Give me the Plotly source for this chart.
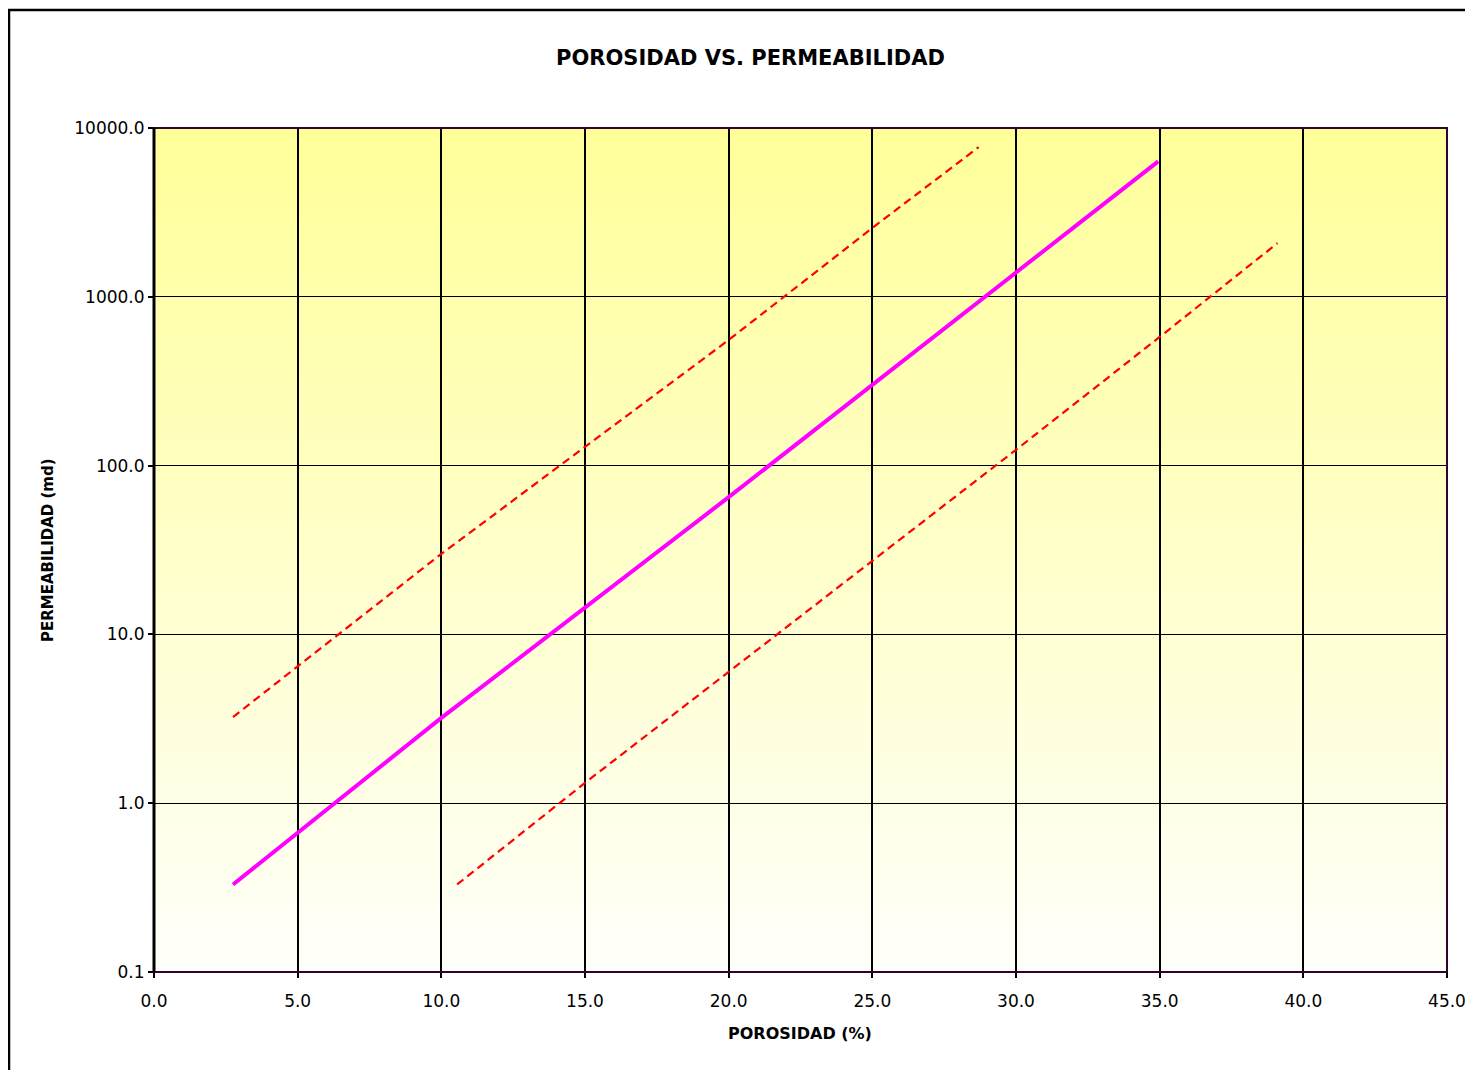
import plotly.graph_objects as go

# Data
x_main = [2.75, 10.0, 20.0, 30.0, 34.95]
k_main = [0.33, 3.2, 65.0, 1400.0, 6340.0]

x_upper = [2.75, 10.0, 20.0, 25.0, 28.7]
k_upper = [3.24, 30.0, 555.0, 2560.0, 7700.0]

x_lower = [10.55, 15.0, 20.0, 30.0, 35.0, 39.1]
k_lower = [0.33, 1.32, 6.0, 124.0, 578.0, 2080.0]

y_tickvals = [0.1, 1, 10, 100, 1000, 10000]
y_ticktext = ["0.1", "1.0", "10.0", "100.0", "1000.0", "10000.0"]
x_tickvals = [0, 5, 10, 15, 20, 25, 30, 35, 40, 45]
x_ticktext = ["0.0", "5.0", "10.0", "15.0", "20.0", "25.0", "30.0", "35.0", "40.0", "45.0"]

OFF = 8  # page body margin
W, H = 1473 - OFF, 1070 - OFF
L, T = 154 - OFF, 128 - OFF
R = W - (1447 - OFF)
B = H - (972 - OFF)
pw, ph = W - L - R, H - T - B

def px_x(sx):
    return (sx - OFF - L) / pw

def px_y(sy):
    return (H - B - (sy - OFF)) / ph

FONT = "DejaVu Sans, Liberation Sans, Arial, sans-serif"

fig = go.Figure()
fig.add_trace(go.Scatter(x=x_upper, y=k_upper, mode="lines",
                         line=dict(color="#FF0000", width=2.2, dash="8px,5px")))
fig.add_trace(go.Scatter(x=x_lower, y=k_lower, mode="lines",
                         line=dict(color="#FF0000", width=2.2, dash="8px,5px")))
fig.add_trace(go.Scatter(x=x_main, y=k_main, mode="lines",
                         line=dict(color="#FF00FF", width=4)))

shapes = []
N = 80
top = (255, 255, 153)
bot = (255, 255, 250)
for i in range(N):
    f = (i + 0.5) / N
    c = tuple(round(bot[j] + (top[j] - bot[j]) * f) for j in range(3))
    shapes.append(dict(type="rect", xref="x domain", yref="y domain",
                       x0=0, x1=1, y0=i / N, y1=min(1, (i + 1) / N + 0.002),
                       fillcolor="rgb(%d,%d,%d)" % c, line=dict(width=0),
                       layer="below"))
shapes.append(dict(type="rect", xref="x domain", yref="y domain", x0=0, x1=1, y0=0, y1=1,
                   line=dict(color="#330033", width=2), fillcolor="rgba(0,0,0,0)", layer="above"))
shapes.append(dict(type="line", xref="x domain", yref="y domain", x0=0, x1=0, y0=0, y1=1,
                   line=dict(color="black", width=3), layer="above"))
shapes.append(dict(type="rect", xref="paper", yref="paper",
                   x0=px_x(9), x1=px_x(W + 30),
                   y0=px_y(H + 30), y1=px_y(10),
                   line=dict(color="black", width=2.5), fillcolor="rgba(0,0,0,0)", layer="above"))

annotations = [
    dict(text="<b>POROSIDAD VS. PERMEABILIDAD</b>", xref="paper", yref="paper",
         x=px_x(750), y=px_y(58), showarrow=False,
         font=dict(family=FONT, size=21, color="black"), xanchor="center", yanchor="middle"),
    dict(text="<b>POROSIDAD (%)</b>", xref="paper", yref="paper",
         x=px_x(800), y=px_y(1033), showarrow=False,
         font=dict(family=FONT, size=16, color="black"), xanchor="center", yanchor="middle"),
    dict(text="<b>PERMEABILIDAD (md)</b>", xref="paper", yref="paper",
         x=px_x(48), y=px_y(550), showarrow=False, textangle=-90,
         font=dict(family=FONT, size=15, color="black"), xanchor="center", yanchor="middle"),
]

fig.update_layout(
    width=W, height=H,
    margin=dict(l=L, r=R, t=T, b=B, autoexpand=False),
    paper_bgcolor="white", plot_bgcolor="rgba(0,0,0,0)",
    showlegend=False,
    shapes=shapes, annotations=annotations,
    font=dict(family=FONT, size=17, color="black"),
)
fig.update_xaxes(range=[0, 45], tickvals=x_tickvals, ticktext=x_ticktext,
                 showgrid=True, gridcolor="black", gridwidth=1.6,
                 ticks="outside", ticklen=5, tickcolor="black", tickwidth=1.5,
                 ticklabelstandoff=9, automargin=False,
                 showline=False, zeroline=False, tickfont=dict(family=FONT, size=17, color="black"))
fig.update_yaxes(type="log", range=[-1, 4], tickvals=y_tickvals, ticktext=y_ticktext,
                 showgrid=True, gridcolor="black", gridwidth=1.2,
                 ticks="outside", ticklen=5, tickcolor="black", tickwidth=1.5,
                 showline=False, zeroline=False, automargin=False,
                 tickfont=dict(family=FONT, size=17, color="black"))

fig.write_html("out.html")
